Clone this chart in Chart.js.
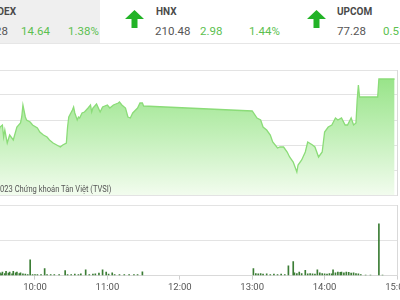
<!DOCTYPE html>
<html>
<head>
<meta charset="utf-8">
<script src="https://cdn.jsdelivr.net/npm/chart.js@4/dist/chart.umd.min.js"></script>
<style>
  html, body { margin: 0; padding: 0; width: 400px; height: 300px; overflow: hidden; background: #fff; font-family: Roboto, "Noto Sans", sans-serif; }
  .abs { position: absolute; white-space: nowrap; }
  .name { font-size: 10px; font-weight: 700; color: #4a4a4a; top: 6px; }
  .num { font-size: 11.5px; color: #555; top: 24px; }
  .up { color: #5cbf4f; }
  #panel { left: 0; top: 0; width: 100px; height: 43px; background: #efefef; }
  #sep { left: 0; top: 43px; width: 400px; height: 1px; background: #e6e6e6; }
  #credit { font-size: 8.8px; color: #555; top: 184px; right: 289px; transform: scaleX(0.86); transform-origin: right center; }
  canvas { position: absolute; left: 0; }
</style>
</head>
<body>
<div id="panel" class="abs"></div>
<div id="sep" class="abs"></div>

<div class="abs name" style="right:384px">VN-INDEX</div>
<div class="abs num" style="right:392px">1,075.28</div>
<div class="abs num up" style="left:21px">14.64</div>
<div class="abs num up" style="left:68px">1.38%</div>

<svg class="abs" style="left:125px;top:10px" width="19" height="18" viewBox="0 0 19 18"><polygon points="9.5,0 19,9 12.5,9 12.5,18 6.5,18 6.5,9 0,9" fill="#22b327"/></svg>
<div class="abs name" style="left:156px">HNX</div>
<div class="abs num" style="left:155px">210.48</div>
<div class="abs num up" style="left:200px">2.98</div>
<div class="abs num up" style="left:249px">1.44%</div>

<svg class="abs" style="left:307px;top:10px" width="19" height="18" viewBox="0 0 19 18"><polygon points="9.5,0 19,9 12.5,9 12.5,18 6.5,18 6.5,9 0,9" fill="#22b327"/></svg>
<div class="abs name" style="left:337px">UPCOM</div>
<div class="abs num" style="left:337px">77.28</div>
<div class="abs num up" style="left:383px">0.51%</div>

<canvas id="priceChart" width="400" height="127" style="top:69px"></canvas>
<div id="credit" class="abs">©2023 Chứng khoán Tân Việt (TVSI)</div>
<canvas id="volumeChart" width="420" height="96" style="top:204px"></canvas>

<script>
"use strict";

const $ = (id) => document.getElementById(id);

// index line (intraday)
const priceTimes = [
  "9:15", "9:22", "9:27", "9:29", "9:31", "9:33", "9:34", "9:35", "9:37", "9:39",
  "9:42", "9:45", "9:48", "9:49", "9:50", "9:52", "9:53", "9:56", "9:58", "10:02",
  "10:04", "10:07", "10:10", "10:12", "10:15", "10:18", "10:21", "10:23", "10:26", "10:27",
  "10:28", "10:31", "10:32", "10:33", "10:35", "10:36", "10:37", "10:39", "10:41", "10:44",
  "10:46", "10:47", "10:48", "10:51", "10:54", "10:56", "11:00", "11:02", "11:05", "11:09",
  "11:10", "11:12", "11:15", "11:17", "11:19", "11:21", "11:25", "11:27", "11:29", "11:30",
  "13:00", "13:04", "13:07", "13:09", "13:12", "13:15", "13:17", "13:21", "13:23", "13:26",
  "13:29", "13:31", "13:34", "13:37", "13:38", "13:41", "13:44", "13:46", "13:50", "13:52",
  "13:55", "13:58", "14:00", "14:03", "14:06", "14:09", "14:11", "14:14", "14:17", "14:19",
  "14:22", "14:24", "14:26", "14:27", "14:28", "14:29", "14:44", "14:45", "14:58",
];
const priceValues = [
  1065.0, 1067.0, 1064.5, 1064.0, 1065.6, 1066.0, 1063.6, 1065.0, 1062.4, 1064.0,
  1063.0, 1065.6, 1066.4, 1067.6, 1070.0, 1067.6, 1067.0, 1066.6, 1066.0, 1065.4,
  1064.6, 1064.0, 1063.6, 1063.0, 1062.4, 1062.0, 1061.6, 1062.0, 1062.4, 1065.6,
  1067.6, 1069.0, 1069.6, 1068.4, 1067.0, 1067.6, 1067.4, 1068.4, 1068.6, 1069.4,
  1070.0, 1068.6, 1069.4, 1070.2, 1068.6, 1069.6, 1070.0, 1069.4, 1070.0, 1070.4,
  1070.6, 1070.0, 1069.4, 1067.6, 1067.4, 1068.4, 1069.4, 1070.4, 1070.4, 1069.8,
  1068.8, 1067.4, 1067.0, 1065.6, 1065.0, 1064.0, 1062.6, 1061.4, 1061.6, 1061.6,
  1060.6, 1059.6, 1058.6, 1056.6, 1058.0, 1059.0, 1060.6, 1062.6, 1062.0, 1061.6,
  1059.6, 1060.6, 1064.6, 1065.6, 1066.0, 1067.4, 1067.0, 1067.4, 1066.0, 1066.0,
  1067.4, 1066.0, 1066.4, 1071.0, 1074.0, 1071.6, 1071.6, 1075.2, 1075.2,
];

// matched volume (millions)
const volumeTimes = [
  "9:31", "9:32", "9:33", "9:35", "9:36", "9:38", "9:39", "9:41", "9:42", "9:44",
  "9:45", "9:47", "9:48", "9:50", "9:52", "9:54", "9:56", "9:58", "10:00", "10:02",
  "10:05", "10:08", "10:10", "10:13", "10:16", "10:20", "10:25", "10:27", "10:30", "10:33",
  "10:36", "10:38", "10:42", "10:45", "10:48", "10:50", "10:53", "10:56", "10:59", "11:01",
  "11:04", "11:06", "11:10", "11:14", "11:18", "11:22", "11:25", "11:29",
  "13:01", "13:03", "13:05", "13:07", "13:09", "13:12", "13:15", "13:18", "13:21", "13:24",
  "13:27", "13:30", "13:34", "13:35", "13:37", "13:39", "13:41", "13:44", "13:46", "13:48",
  "13:50", "13:52", "13:54", "13:56", "13:58", "14:00", "14:02", "14:04", "14:06", "14:07",
  "14:09", "14:11", "14:13", "14:14", "14:16", "14:18", "14:20", "14:22", "14:24", "14:26",
  "14:28", "14:30", "14:34", "14:38", "14:45", "14:48",
];
const volumeValues = [
  0.08, 0.05, 0.10, 0.06, 0.12, 0.07, 0.10, 0.05, 0.12, 0.08,
  0.10, 0.06, 0.08, 0.05, 0.04, 0.03, 0.45, 0.03, 0.03, 0.03,
  0.03, 0.20, 0.03, 0.03, 0.03, 0.03, 0.14, 0.03, 0.03, 0.04,
  0.03, 0.05, 0.16, 0.03, 0.04, 0.05, 0.07, 0.16, 0.10, 0.04,
  0.08, 0.03, 0.03, 0.03, 0.03, 0.03, 0.03, 0.11,
  0.20, 0.06, 0.05, 0.06, 0.04, 0.05, 0.03, 0.04, 0.03, 0.04,
  0.03, 0.28, 0.40, 0.08, 0.06, 0.10, 0.06, 0.15, 0.05, 0.06,
  0.05, 0.04, 0.16, 0.08, 0.06, 0.05, 0.04, 0.06, 0.05, 0.16,
  0.08, 0.10, 0.09, 0.10, 0.08, 0.10, 0.09, 0.07, 0.08, 0.06,
  0.05, 0.03, 0.01, 0.01, 1.47, 0.01,
];

const hourTicks = ["10:00", "11:00", "12:00", "13:00", "14:00", "15:00"];

const startTime = "9:31";
const endTime = "15:00";

function minutes(t) {
  const [h, m] = t.split(":").map(Number);
  return h * 60 + m;
}

function clock(v) {
  return `${Math.floor(v / 60)}:${String(v % 60).padStart(2, "0")}`;
}

const xMin = minutes(startTime);
const xMax = minutes(endTime);
const gridColor = "#e3e3e3";
const borderColor = "#d9d9d9";

function areaFill(context) {
  const { chart } = context;
  const area = chart.chartArea;
  if (!area) return "rgba(150,225,135,0.6)";
  const g = chart.ctx.createLinearGradient(0, area.top, 0, area.bottom);
  g.addColorStop(0, "rgb(146,226,130)");
  g.addColorStop(0.5, "rgb(192,239,182)");
  g.addColorStop(1, "rgb(242,252,238)");
  return g;
}

new Chart($("priceChart"), {
  type: "line",
  data: {
    datasets: [
      {
        data: priceTimes.map((t, i) => ({ x: minutes(t), y: priceValues[i] })),
        borderColor: "#8bdc78",
        borderWidth: 1.3,
        pointRadius: 0,
        tension: 0,
        fill: "start",
        backgroundColor: areaFill,
      },
    ],
  },
  options: {
    responsive: false,
    animation: false,
    layout: { padding: { top: 1, right: 3, bottom: 1, left: 0 } },
    plugins: { legend: { display: false }, tooltip: { enabled: false } },
    scales: {
      x: { type: "linear", min: xMin, max: xMax, display: false },
      y: {
        position: "right",
        min: 1052,
        max: 1077,
        ticks: { stepSize: 5, display: false },
        grid: { color: gridColor, drawTicks: false },
        border: { display: true, color: borderColor },
        afterFit: (s) => { s.width = 0; },
      },
    },
  },
});

new Chart($("volumeChart"), {
  type: "bar",
  data: {
    datasets: [
      {
        data: volumeTimes.map((t, i) => ({ x: minutes(t), y: volumeValues[i] })),
        backgroundColor: "#3b7d35",
        barThickness: 1,
      },
    ],
  },
  options: {
    responsive: false,
    animation: false,
    layout: { padding: { top: 1, right: 23, bottom: 5, left: 0 } },
    plugins: { legend: { display: false }, tooltip: { enabled: false } },
    scales: {
      x: {
        type: "linear",
        min: xMin,
        max: xMax,
        offset: false,
        afterBuildTicks: (s) => {
          s.ticks = hourTicks.map((t) => ({ value: minutes(t) }));
        },
        ticks: {
          callback: (v) => clock(v),
          font: { family: "Roboto", size: 9.5 },
          color: "#555",
          padding: 2,
          maxRotation: 0,
          autoSkip: false,
        },
        grid: { offset: false, drawOnChartArea: false, drawTicks: true, tickLength: 4, color: "#cfcfcf" },
        border: { display: true, color: borderColor },
      },
      y: {
        position: "right",
        min: 0,
        max: 2,
        ticks: { stepSize: 1, display: false },
        grid: { color: gridColor, drawTicks: false },
        border: { display: true, color: borderColor },
        afterFit: (s) => { s.width = 0; },
      },
    },
  },
});
</script>
</body>
</html>
